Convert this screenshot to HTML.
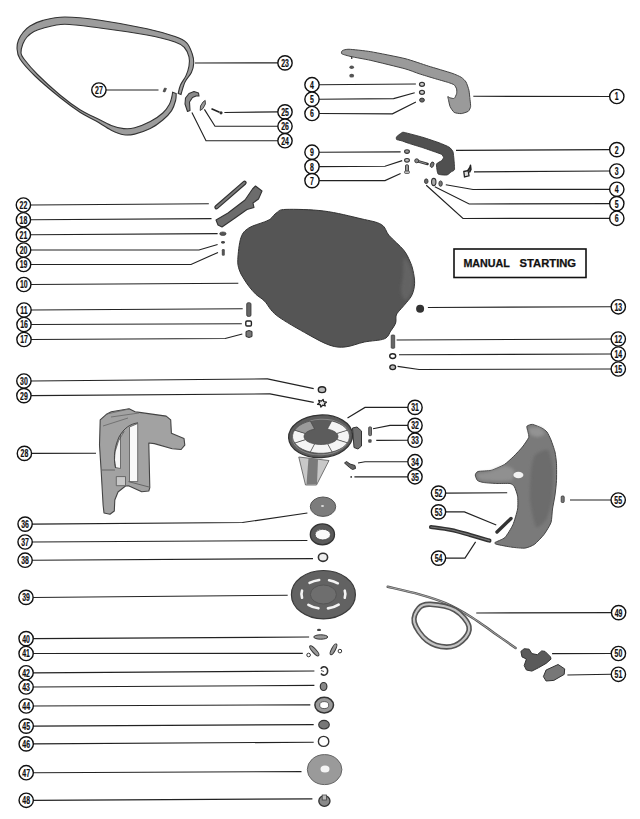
<!DOCTYPE html>
<html><head><meta charset="utf-8"><style>
html,body{margin:0;padding:0;background:#fff;width:640px;height:819px;overflow:hidden}
svg{display:block}
.n{font-family:"Liberation Sans",sans-serif;font-weight:bold;font-size:11.2px;fill:#111;stroke:#111;stroke-width:0.2px}
.t{font-family:"Liberation Sans",sans-serif;font-weight:bold;font-size:10px;fill:#111;stroke:#111;stroke-width:0.25px}
</style></head><body>
<svg width="640" height="819" viewBox="0 0 640 819">
<defs><filter id="bl" x="-20%" y="-20%" width="140%" height="140%"><feGaussianBlur stdDeviation="1.8"/></filter></defs>
<rect width="640" height="819" fill="#fff"/>
<polyline points="106,90 158.5,90" fill="none" stroke="#222" stroke-width="1.15"/><polyline points="195,63 278,62.9" fill="none" stroke="#222" stroke-width="1.15"/><polyline points="224.4,112.5 278,111.9" fill="none" stroke="#222" stroke-width="1.15"/><polyline points="204.4,109.4 215,126.2 278,126.2" fill="none" stroke="#222" stroke-width="1.15"/><polyline points="191.9,112.5 206,140.7 278,140.7" fill="none" stroke="#222" stroke-width="1.15"/><polyline points="319,84.7 415.9,84" fill="none" stroke="#222" stroke-width="1.15"/><polyline points="319,99.2 393.6,98.6 414.7,92.7" fill="none" stroke="#222" stroke-width="1.15"/><polyline points="319,113.5 392.4,113.8 415.9,102" fill="none" stroke="#222" stroke-width="1.15"/><polyline points="319,152.2 400.6,151.8" fill="none" stroke="#222" stroke-width="1.15"/><polyline points="319,166.6 385,166.2 402.2,160.6" fill="none" stroke="#222" stroke-width="1.15"/><polyline points="319,180.6 385,180.6 400.6,173.4" fill="none" stroke="#222" stroke-width="1.15"/><polyline points="473.3,96.25 609.5,96.5" fill="none" stroke="#222" stroke-width="1.15"/><polyline points="456,150.3 609.5,149.6" fill="none" stroke="#222" stroke-width="1.15"/><polyline points="474,171.9 609.5,171" fill="none" stroke="#222" stroke-width="1.15"/><polyline points="445.8,184.7 473,189.5 609.5,189.3" fill="none" stroke="#222" stroke-width="1.15"/><polyline points="434.8,186.7 469.2,204 609.5,203.6" fill="none" stroke="#222" stroke-width="1.15"/><polyline points="426.25,185.2 463,218.5 609.5,218.3" fill="none" stroke="#222" stroke-width="1.15"/><polyline points="427.9,307.5 611,306.8" fill="none" stroke="#222" stroke-width="1.15"/><polyline points="396.6,340 611,339" fill="none" stroke="#222" stroke-width="1.15"/><polyline points="399,354.8 611,354" fill="none" stroke="#222" stroke-width="1.15"/><polyline points="397.6,366.4 419.1,369.5 611,369" fill="none" stroke="#222" stroke-width="1.15"/><polyline points="31,205 208.8,203.8" fill="none" stroke="#222" stroke-width="1.15"/><polyline points="31,219.8 211.5,218.6" fill="none" stroke="#222" stroke-width="1.15"/><polyline points="31,234.7 217.6,233.6" fill="none" stroke="#222" stroke-width="1.15"/><polyline points="31,250 199,250 217.6,244.5" fill="none" stroke="#222" stroke-width="1.15"/><polyline points="31,264.5 191,264.5 218,252.4" fill="none" stroke="#222" stroke-width="1.15"/><polyline points="31,284.5 238.3,283.3" fill="none" stroke="#222" stroke-width="1.15"/><polyline points="31,310 242.7,308.8" fill="none" stroke="#222" stroke-width="1.15"/><polyline points="31,324.5 241.8,323.8" fill="none" stroke="#222" stroke-width="1.15"/><polyline points="31,339.5 225.2,338.5 242.3,334" fill="none" stroke="#222" stroke-width="1.15"/><polyline points="31,381 267.5,378.9 313.7,388.6" fill="none" stroke="#222" stroke-width="1.15"/><polyline points="31,395.6 270,393.9 313.7,402.4" fill="none" stroke="#222" stroke-width="1.15"/><polyline points="31.5,453.4 96,453.2" fill="none" stroke="#222" stroke-width="1.15"/><polyline points="32,524.1 242.5,522.5 307.4,513" fill="none" stroke="#222" stroke-width="1.15"/><polyline points="32,542 307.4,540.5" fill="none" stroke="#222" stroke-width="1.15"/><polyline points="32,560.2 313,558.6" fill="none" stroke="#222" stroke-width="1.15"/><polyline points="32.5,597.5 287.7,595.2" fill="none" stroke="#222" stroke-width="1.15"/><polyline points="33,638.6 309.1,637" fill="none" stroke="#222" stroke-width="1.15"/><polyline points="33,653.5 302.8,653.3" fill="none" stroke="#222" stroke-width="1.15"/><polyline points="33,672.8 314.4,671" fill="none" stroke="#222" stroke-width="1.15"/><polyline points="33,687 314.4,685.4" fill="none" stroke="#222" stroke-width="1.15"/><polyline points="33,706 310.3,704.8" fill="none" stroke="#222" stroke-width="1.15"/><polyline points="33,726.1 313.7,724.6" fill="none" stroke="#222" stroke-width="1.15"/><polyline points="33,743.9 313.7,742.2" fill="none" stroke="#222" stroke-width="1.15"/><polyline points="33,772.7 301.5,771.6" fill="none" stroke="#222" stroke-width="1.15"/><polyline points="33,800.3 312.4,798.8" fill="none" stroke="#222" stroke-width="1.15"/><polyline points="347.5,418.1 365,407.4 408,407.4" fill="none" stroke="#222" stroke-width="1.15"/><polyline points="373,428.75 390,425.4 408,425.4" fill="none" stroke="#222" stroke-width="1.15"/><polyline points="376.25,440.4 408,440.2" fill="none" stroke="#222" stroke-width="1.15"/><polyline points="358,463 365,461.7 408,461.7" fill="none" stroke="#222" stroke-width="1.15"/><polyline points="354.4,476.8 408,476.8" fill="none" stroke="#222" stroke-width="1.15"/><polyline points="445.5,493.1 507.2,492.8" fill="none" stroke="#222" stroke-width="1.15"/><polyline points="445.5,511.9 464.4,511.9 496.25,525" fill="none" stroke="#222" stroke-width="1.15"/><polyline points="445.5,558.1 465,558.1 475.6,541.9" fill="none" stroke="#222" stroke-width="1.15"/><polyline points="570,500 611,500" fill="none" stroke="#222" stroke-width="1.15"/><polyline points="476.25,613 611,612.6" fill="none" stroke="#222" stroke-width="1.15"/><polyline points="552.1,653.6 611,653.5" fill="none" stroke="#222" stroke-width="1.15"/><polyline points="567.4,675 611,674.3" fill="none" stroke="#222" stroke-width="1.15"/>
<path d="M181.00,94.50 C181.67,92.42 183.27,85.67 185.00,82.00 C186.73,78.33 189.94,75.67 191.40,72.50 C192.86,69.33 193.62,66.12 193.75,63.00 C193.88,59.88 193.38,57.12 192.20,53.75 C191.02,50.38 189.57,45.66 186.70,42.80 C183.83,39.94 181.63,38.94 175.00,36.60 C168.37,34.26 159.40,31.48 146.90,28.75 C134.40,26.02 113.70,22.16 100.00,20.20 C86.30,18.24 74.20,16.97 64.70,17.00 C55.20,17.03 48.78,18.90 43.00,20.40 C37.22,21.90 33.33,23.98 30.00,26.00 C26.67,28.02 24.92,30.17 23.00,32.50 C21.08,34.83 19.50,37.42 18.50,40.00 C17.50,42.58 16.75,44.83 17.00,48.00 C17.25,51.17 17.00,54.33 20.00,59.00 C23.00,63.67 28.33,69.58 35.00,76.00 C41.67,82.42 52.50,91.47 60.00,97.50 C67.50,103.53 74.07,108.32 80.00,112.20 C85.93,116.08 90.39,117.80 95.60,120.80 C100.81,123.80 106.56,127.87 111.25,130.20 C115.94,132.53 119.84,134.15 123.75,134.80 C127.66,135.45 130.27,135.13 134.70,134.10 C139.12,133.07 145.62,130.95 150.30,128.60 C154.98,126.25 159.25,123.00 162.80,120.00 C166.35,117.00 169.47,113.85 171.60,110.60 C173.73,107.35 174.83,103.35 175.60,100.50 C176.37,97.65 176.10,94.67 176.20,93.50 L172.60,92.20 C172.47,93.00 172.35,94.97 171.80,97.00 C171.25,99.03 170.80,101.73 169.30,104.40 C167.80,107.07 165.97,110.13 162.80,113.00 C159.63,115.87 154.98,119.13 150.30,121.60 C145.62,124.07 139.12,126.63 134.70,127.80 C130.27,128.97 127.66,128.98 123.75,128.60 C119.84,128.22 115.94,127.32 111.25,125.50 C106.56,123.68 100.81,120.32 95.60,117.70 C90.39,115.08 85.93,113.58 80.00,109.80 C74.07,106.02 67.08,100.88 60.00,95.00 C52.92,89.12 43.50,80.50 37.50,74.50 C31.50,68.50 26.75,62.58 24.00,59.00 C21.25,55.42 21.20,55.50 21.00,53.00 C20.80,50.50 21.80,46.67 22.80,44.00 C23.80,41.33 25.13,39.08 27.00,37.00 C28.87,34.92 31.33,32.97 34.00,31.50 C36.67,30.03 37.88,29.40 43.00,28.20 C48.12,27.00 55.20,24.33 64.70,24.30 C74.20,24.27 86.30,26.22 100.00,28.00 C113.70,29.78 134.40,32.67 146.90,35.00 C159.40,37.33 168.75,39.92 175.00,42.00 C181.25,44.08 182.07,45.02 184.40,47.50 C186.73,49.98 188.23,53.82 189.00,56.90 C189.77,59.98 189.50,62.88 189.00,66.00 C188.50,69.12 187.42,72.43 186.00,75.60 C184.58,78.77 181.80,82.02 180.50,85.00 C179.20,87.98 178.58,92.08 178.20,93.50 Z" fill="#9c9c9c" stroke="#333" stroke-width="1.1"/>
<path d="M163,91.5 L164.5,88 L166.5,88.5 L165,92 Z" fill="#555" stroke="#333" stroke-width="0.6" stroke-linejoin="round" />
<path d="M187.5,111.5 L185,104 L185.5,98 L189,93.5 L194,91.5 L198.5,93 L199,96 L196,96 L192.5,97.5 L189.5,102 L190,110.5 Z" fill="#8a8a8a" stroke="#333" stroke-width="1.1" stroke-linejoin="round" />
<path d="M200.2,110.5 L200.5,106 L203,102 L205.2,100.4 L205.4,104 L203,108.5 Z" fill="#999" stroke="#333" stroke-width="0.9" stroke-linejoin="round" />
<line x1="211.5" y1="108.8" x2="219.5" y2="112.3" stroke="#222" stroke-width="1.6"/><circle cx="221" cy="112.8" r="1.6" fill="#333"/>
<path d="M342.40,50.60 C343.12,50.15 346.16,49.14 349.00,49.25 C351.84,49.36 365.20,50.77 370.80,51.70 C376.40,52.64 399.24,57.16 405.00,58.60 C410.76,60.04 423.71,64.64 428.40,66.10 C433.09,67.56 448.61,72.08 451.90,73.20 C455.19,74.32 459.84,76.42 461.25,77.30 C462.66,78.18 465.24,80.71 466.00,82.00 C466.76,83.29 468.50,88.45 468.90,90.20 C469.30,91.95 469.83,97.86 470.00,99.50 C470.17,101.14 470.77,105.42 470.60,106.60 C470.43,107.77 469.24,110.55 468.30,111.25 C467.37,111.95 462.66,113.48 461.25,113.60 C459.84,113.71 455.31,113.10 454.20,112.40 C453.08,111.70 450.68,107.89 450.10,106.60 C449.52,105.31 448.63,100.50 448.40,99.50 C448.17,98.50 447.63,96.77 447.80,96.60 C447.97,96.43 449.46,97.62 450.10,97.80 C450.74,97.98 453.55,98.81 454.20,98.40 C454.85,97.99 456.36,94.64 456.60,93.70 C456.84,92.76 456.84,89.88 456.60,89.00 C456.36,88.12 455.02,85.55 454.20,84.90 C453.38,84.25 450.39,83.15 448.40,82.50 C446.41,81.85 437.23,79.28 434.30,78.40 C431.37,77.53 422.03,74.71 419.10,73.75 C416.17,72.79 409.83,70.13 405.00,68.80 C400.17,67.47 376.19,61.62 370.80,60.40 C365.41,59.18 354.00,57.26 351.10,56.60 C348.20,55.94 342.67,54.40 341.80,53.80 C340.93,53.20 341.68,51.05 342.40,50.60 Z" fill="#9a9a9a" stroke="#444" stroke-width="1" stroke-linejoin="round" />
<ellipse cx="351.7" cy="67.2" rx="2.3" ry="1.7" fill="#555"/><ellipse cx="351.7" cy="75.7" rx="2.4" ry="1.9" fill="#555"/><rect x="351" y="56" width="1.4" height="3" fill="#444"/>
<ellipse cx="422" cy="84.3" rx="2.5" ry="2" fill="#ccc" stroke="#333" stroke-width="1.2"/><ellipse cx="422" cy="92.3" rx="2.5" ry="2" fill="#ccc" stroke="#333" stroke-width="1.2"/><ellipse cx="422" cy="100.1" rx="2.4" ry="2" fill="#666" stroke="#333" stroke-width="1"/>
<path d="M396.60,136.75 C397.01,136.20 400.87,133.26 401.50,132.90 C402.13,132.54 402.43,132.03 404.20,132.40 C405.97,132.77 419.88,136.43 422.80,137.30 C425.72,138.17 437.01,141.98 439.20,142.80 C441.39,143.62 447.96,146.38 449.10,147.10 C450.24,147.82 452.49,150.45 452.90,151.50 C453.31,152.55 453.87,158.19 454.00,159.70 C454.13,161.21 454.73,168.59 454.50,169.60 C454.27,170.61 451.93,171.35 451.30,171.80 C450.67,172.25 448.00,174.82 446.90,175.00 C445.80,175.18 438.97,174.91 438.10,174.00 C437.23,173.09 436.23,165.20 436.50,164.10 C436.77,163.00 440.81,161.35 441.40,160.80 C441.99,160.25 443.60,158.04 443.60,157.50 C443.60,156.96 442.22,154.80 441.40,154.30 C440.58,153.80 435.35,152.05 433.80,151.50 C432.25,150.95 424.90,148.38 422.80,147.70 C420.70,147.02 410.15,143.80 408.60,143.30 C407.05,142.80 404.84,141.92 404.20,141.70 C403.56,141.47 401.53,140.78 400.90,140.60 C400.27,140.42 396.96,139.82 396.60,139.50 C396.24,139.18 396.19,137.30 396.60,136.75 Z" fill="#505050" stroke="#333" stroke-width="0.9" stroke-linejoin="round" />
<ellipse cx="407" cy="151.6" rx="2.4" ry="1.8" fill="#999" stroke="#333" stroke-width="1.1"/><ellipse cx="407" cy="160.3" rx="2.4" ry="1.8" fill="#bbb" stroke="#333" stroke-width="1.1"/><rect x="405.5" y="164.8" width="3" height="7" rx="1" fill="#999" stroke="#333" stroke-width="0.9"/><rect x="404.6" y="171" width="4.8" height="2.4" rx="0.8" fill="#ccc" stroke="#333" stroke-width="0.8"/>
<line x1="417" y1="161" x2="427.5" y2="164" stroke="#333" stroke-width="2.6" stroke-linecap="round"/><line x1="418" y1="161.3" x2="426.5" y2="163.7" stroke="#999" stroke-width="0.9"/><circle cx="416.7" cy="160.8" r="2" fill="#888" stroke="#333" stroke-width="0.9"/>
<ellipse cx="432.1" cy="164.7" rx="1.7" ry="2.8" transform="rotate(20 432.1 164.7)" fill="#777" stroke="#333" stroke-width="0.9"/>
<path d="M463.8,171.5 L468.2,170.5 L469,175.8 L464.5,177 Z" fill="#ddd" stroke="#222" stroke-width="1.3"/><path d="M467.5,171 L469.8,167.5 L470.5,165.2 L471,169.5 L469.5,172.5" fill="#555" stroke="#222" stroke-width="1.4" stroke-linejoin="round"/>
<ellipse cx="426.25" cy="181.25" rx="1.8" ry="2.4" fill="#666" stroke="#333" stroke-width="0.8"/><ellipse cx="433.75" cy="182" rx="2.2" ry="3.6" fill="#aaa" stroke="#333" stroke-width="1.1"/><ellipse cx="440.6" cy="183.6" rx="1.7" ry="2.7" fill="#777" stroke="#333" stroke-width="0.9"/>
<line x1="216.5" y1="207.2" x2="244.5" y2="182.8" stroke="#333" stroke-width="4.4" stroke-linecap="round"/><line x1="216.5" y1="207.2" x2="244.5" y2="182.8" stroke="#7a7a7a" stroke-width="2" stroke-linecap="round"/>
<path d="M216,220 L228,213 L245,200 L252.5,189 L255.5,186 L262,191 L258.5,199 L253,203 L254,207.5 L247,209.5 L235,218 L222,227 L218,225 Z" fill="#6c6c6c" stroke="#333" stroke-width="1.1" stroke-linejoin="round" />
<ellipse cx="222.9" cy="233.7" rx="3.2" ry="1.8" fill="#555" stroke="#333" stroke-width="0.6"/><ellipse cx="223" cy="242.3" rx="2" ry="1.4" fill="#444"/><rect x="221.8" y="249" width="3" height="6.7" rx="1.3" fill="#555"/>
<path d="M276.90,212.50 C279.47,210.94 278.19,209.65 286.00,209.40 C293.81,209.15 311.25,209.44 323.75,211.00 C336.25,212.56 351.41,216.50 361.00,218.75 C370.59,221.00 376.60,221.69 381.30,224.50 C386.00,227.31 385.50,231.37 389.20,235.60 C392.90,239.83 400.07,245.67 403.50,249.90 C406.93,254.13 408.22,257.55 409.80,261.00 C411.38,264.45 412.20,266.89 413.00,270.60 C413.80,274.31 414.73,279.28 414.60,283.25 C414.47,287.22 413.52,291.22 412.20,294.40 C410.88,297.57 408.55,299.92 406.70,302.30 C404.85,304.68 402.83,306.58 401.10,308.70 C399.37,310.82 397.22,312.62 396.30,315.00 C395.38,317.38 396.52,320.35 395.60,323.00 C394.68,325.65 392.67,328.27 390.80,330.90 C388.93,333.53 388.80,336.95 384.40,338.80 C380.00,340.65 370.87,340.65 364.40,342.00 C357.93,343.35 351.33,346.35 345.60,346.90 C339.87,347.45 336.27,347.38 330.00,345.30 C323.73,343.22 316.85,339.35 308.00,334.40 C299.15,329.45 284.12,321.12 276.90,315.60 C269.68,310.08 268.18,304.83 264.70,301.30 C261.22,297.77 258.60,296.85 256.00,294.40 C253.40,291.95 251.23,289.37 249.10,286.60 C246.97,283.83 244.83,280.57 243.20,277.80 C241.57,275.03 240.20,273.07 239.30,270.00 C238.40,266.93 237.52,264.82 237.80,259.40 C238.08,253.98 239.18,242.73 241.00,237.50 C242.82,232.27 244.85,230.60 248.75,228.00 C252.65,225.40 260.76,223.44 264.40,221.90 C268.04,220.36 268.52,220.32 270.60,218.75 C272.68,217.18 274.33,214.06 276.90,212.50 Z" fill="#555555" stroke="#333" stroke-width="1" stroke-linejoin="round" />
<path d="M404.00,258.00 C405.17,256.33 408.50,262.33 410.00,266.00 C411.50,269.67 412.83,275.50 413.00,280.00 C413.17,284.50 412.33,289.67 411.00,293.00 C409.67,296.33 406.67,300.50 405.00,300.00 C403.33,299.50 401.33,294.00 401.00,290.00 C400.67,286.00 402.50,281.33 403.00,276.00 C403.50,270.67 402.83,259.67 404.00,258.00 Z" fill="#646464" stroke="none" stroke-width="0" stroke-linejoin="round" filter="url(#bl)"/>
<rect x="246.7" y="302.7" width="4.3" height="13.7" rx="1.5" fill="#666" stroke="#333" stroke-width="0.8"/><rect x="245.8" y="321" width="5.6" height="5" rx="1.2" fill="#fff" stroke="#222" stroke-width="1.4"/>
<path d="M246,331.5 L249,330.5 L252,331.5 L252,336.5 L249,337.5 L246,336.5 Z" fill="#777" stroke="#333" stroke-width="1" stroke-linejoin="round" />
<circle cx="420.1" cy="308.7" r="4" fill="#333"/><rect x="391.2" y="335" width="3.5" height="13.3" rx="0.8" fill="#666" stroke="#333" stroke-width="0.7"/><ellipse cx="392.7" cy="356.1" rx="3" ry="2.4" fill="#fff" stroke="#222" stroke-width="1.4"/><ellipse cx="392.7" cy="367.3" rx="2.9" ry="2.4" fill="#bbb" stroke="#222" stroke-width="1.3"/>
<path d="M100.2,419.8 L106.9,413.9 L111.3,411.7 L129.1,408.7 L135.1,411.7 L139.5,412.4 L166.2,416.1 L170.7,419.8 L171.4,433.2 L184,438.4 L184.8,445.1 L181.1,449.5 L172.2,448.8 L154.4,443.6 L148.8,443 L149.8,487.7 L148.8,491 L141.7,491.8 L128.5,485.7 L125.5,486 L118,492 L114.8,500 L114.3,511 L110,514.3 L104,513 L103.1,505 L101.1,470 L99.5,445 Z" fill="#a2a2a2" stroke="#444" stroke-width="1.1" stroke-linejoin="round" />
<path d="M124,431.5 L118.5,441 L115,452 L114.5,460 L115.5,467.5 L120.5,468.5 L120.5,435 Z" fill="#f6f6f6" stroke="#555" stroke-width="0.8" stroke-linejoin="round" />
<path d="M129.5,427 L137.7,423.5 L137.7,481.6 L129.5,481.6 Z" fill="#f8f8f8" stroke="#555" stroke-width="0.8" stroke-linejoin="round" />
<path d="M138,422.8 C130,424 124,428 119,437 C115,446 113,456 115.5,468" fill="none" stroke="#444" stroke-width="1"/>
<path d="M106.9,414 L129,409 M111,417 L139,413 M103,426 L128,418" fill="none" stroke="#666" stroke-width="0.8"/>
<path d="M116.3,476.6 L125.5,476.6 L125.5,485.7 L116.3,485.7 Z" fill="#c8c8c8" stroke="#555" stroke-width="0.8"/>
<path d="M128.5,481.6 L149,487 M102,470 L115,470" fill="none" stroke="#555" stroke-width="0.8"/>
<ellipse cx="322" cy="389.7" rx="3.7" ry="2.9" fill="#bbb" stroke="#222" stroke-width="1.4"/>
<path d="M323.1380582125708,399.4115524311114 L323.7467858114165,401.67977331781503 L326.42890185400654,402.14352544016674 L324.4222810542766,403.72573341341587 L325.2908436414357,405.93197300905535 L322.67549524286017,405.2459600956008 L320.8619417874292,406.9884475688886 L320.2532141885835,404.72022668218494 L317.57109814599346,404.25647455983324 L319.5777189457234,402.6742665865841 L318.7091563585643,400.4680269909446 L321.32450475713983,401.15403990439916 Z" fill="#eee" stroke="#222" stroke-width="1.3" stroke-linejoin="round" />
<path d="M298.75,457 L329,460.5 L316.5,485 L305.5,485 Z" fill="#c8c8c8" stroke="#555" stroke-width="0.8" stroke-linejoin="round" />
<path d="M308.5,458 L318,459 L317,484 L306.5,484.5 Z" fill="#7a7a7a" stroke="none" stroke-width="0" stroke-linejoin="round" />
<ellipse cx="320.6" cy="436.3" rx="32" ry="21.3" transform="rotate(-3 320.6 436.3)" fill="#5c5c5c" stroke="#333" stroke-width="1.3"/>
<ellipse cx="321" cy="437" rx="28.5" ry="17.8" transform="rotate(-3 321 437)" fill="none" stroke="#888" stroke-width="1"/>
<path d="M347.2502383290822,429.9577718492147 L348.6831322832828,432.50659587602416 L349.40884862962463,435.1574331413179 L349.40884862962463,437.8425668586821 L348.6831322832828,440.49340412397584 L347.2502383290822,443.0422281507853 L336.65803689804903,439.6153467384692 L337.5127455724845,438.4016210114171 L337.94562900714453,437.1393175517534 L337.94562900714453,435.8606824482466 L337.5127455724845,434.5983789885829 L336.65803689804903,433.3846532615308 Z" fill="#f4f4f4" stroke="#444" stroke-width="0.7" stroke-linejoin="round" />
<path d="M347.4094915213559,442.81559248624063 L345.3652430249892,445.2151433004619 L342.69857383933817,447.39206200324793 L339.4776051840813,449.2907382631888 L335.7846180989979,450.86266957262524 L331.71395153915824,452.0677002652203 L327.3907781110768,443.9131906024859 L329.8188950064198,443.3393664631549 L332.02172940804854,442.59082774437564 L333.9430089567982,441.68669619202285 L335.5336537342041,440.6500682383152 L336.75303003028245,439.50742499344796 Z" fill="#f4f4f4" stroke="#444" stroke-width="0.7" stroke-linejoin="round" />
<path d="M332.09842275579655,451.9738246992485 L327.7745248531733,452.8184779775141 L323.2775687781214,453.24626866588403 L318.7224312218786,453.24626866588403 L314.2254751468267,452.8184779775141 L309.90157724420345,451.9738246992485 L314.37988818075297,443.8684879520231 L316.9590553507387,444.2707037988162 L319.6414502025241,444.47441365042096 L322.3585497974759,444.47441365042096 L325.0409446492613,444.2707037988162 L327.6201118192471,443.8684879520231 Z" fill="#f4f4f4" stroke="#444" stroke-width="0.7" stroke-linejoin="round" />
<path d="M310.28604846084176,452.0677002652203 L306.2153819010021,450.86266957262524 L302.5223948159187,449.2907382631888 L299.30142616066183,447.39206200324793 L296.6347569750108,445.2151433004619 L294.5905084786441,442.81559248624063 L305.24696996971755,439.50742499344796 L306.4663462657959,440.6500682383152 L308.0569910432018,441.68669619202285 L309.9782705919515,442.59082774437564 L312.1811049935802,443.3393664631549 L314.6092218889232,443.9131906024859 Z" fill="#f4f4f4" stroke="#444" stroke-width="0.7" stroke-linejoin="round" />
<path d="M294.7497616709178,443.0422281507853 L293.3168677167172,440.49340412397584 L292.59115137037537,437.8425668586821 L292.59115137037537,435.1574331413179 L293.3168677167172,432.50659587602416 L294.7497616709178,429.9577718492147 L305.34196310195097,433.3846532615308 L304.4872544275155,434.5983789885829 L304.05437099285547,435.8606824482466 L304.05437099285547,437.1393175517534 L304.4872544275155,438.4016210114171 L305.34196310195097,439.6153467384692 Z" fill="#f4f4f4" stroke="#444" stroke-width="0.7" stroke-linejoin="round" />
<path d="M331.71395153915824,420.9322997347797 L335.78461809899784,422.13733042737476 L339.4776051840813,423.7092617368112 L342.69857383933817,425.60793799675207 L345.3652430249892,427.7848566995381 L347.4094915213559,430.18440751375937 L336.75303003028245,433.49257500655204 L335.5336537342041,432.3499317616848 L333.9430089567982,431.31330380797715 L332.02172940804854,430.40917225562436 L329.8188950064198,429.6606335368451 L327.3907781110768,429.0868093975141 Z" fill="#f4f4f4" stroke="#444" stroke-width="0.7" stroke-linejoin="round" />
<path d="M294.5905084786441,430.18440751375937 L296.6347569750108,427.78485669953807 L299.30142616066183,425.60793799675207 L302.5223948159187,423.7092617368112 L306.21538190100216,422.13733042737476 L310.28604846084176,420.9322997347797 L314.6092218889232,429.0868093975141 L312.1811049935802,429.6606335368451 L309.9782705919515,430.40917225562436 L308.0569910432018,431.31330380797715 L306.4663462657959,432.3499317616848 L305.24696996971755,433.49257500655204 Z" fill="#9a9a9a" stroke="#444" stroke-width="0.7" stroke-linejoin="round" />
<path d="M352.5,428 L357,427 L361.5,431 L361.5,446 L358,449 L354,447.5 Z" fill="#707070" stroke="#333" stroke-width="1" stroke-linejoin="round" />
<rect x="368.7" y="426.9" width="2.8" height="8.7" rx="0.8" fill="#777" stroke="#333" stroke-width="0.8"/><rect x="368.2" y="439.3" width="3.4" height="3.4" rx="1" fill="#555"/>
<path d="M344.5,463 L346.5,461.5 L350,464 L355,465.5 L355.5,468.5 L352.5,469.5 L349.5,467.5 Z" fill="#666" stroke="#333" stroke-width="1" stroke-linejoin="round" />
<circle cx="351.2" cy="476.9" r="0.9" fill="#333"/>
<ellipse cx="323" cy="506.7" rx="12.7" ry="9.7" fill="#7c7c7c" stroke="#555" stroke-width="1"/><ellipse cx="322.5" cy="506" rx="1.5" ry="1" fill="#ddd"/>
<ellipse cx="322.4" cy="534.4" rx="12.1" ry="10.5" fill="#5a5a5a" stroke="#333" stroke-width="1.3"/><path d="M315.1,534.4 A7.7,5.3 0 0 1 322,529.1 L323.9,531 L325.5,529.2 A7.7,5.3 0 0 1 315.1,534.4 Z" fill="#fafafa"/><ellipse cx="322.8" cy="534.6" rx="7.7" ry="5.3" fill="#fafafa" stroke="#444" stroke-width="0.8"/>
<ellipse cx="323" cy="557.3" rx="4.6" ry="4.1" fill="#eee" stroke="#333" stroke-width="1.6"/>
<ellipse cx="323.4" cy="594.7" rx="32" ry="24.2" fill="#626262" stroke="#3a3a3a" stroke-width="1.2"/>
<ellipse cx="323.4" cy="594.5" rx="13" ry="9.5" fill="#6e6e6e" stroke="#555" stroke-width="1"/>
<path d="M309.55,582.93 A22,14.5 0 0 1 319.20,579.97" fill="none" stroke="#f4f4f4" stroke-width="2.6" stroke-linecap="round"/>
<path d="M329.09,580.19 A22,14.5 0 0 1 337.83,583.26" fill="none" stroke="#f4f4f4" stroke-width="2.6" stroke-linecap="round"/>
<path d="M344.75,590.69 A22,14.5 0 0 1 344.75,597.71" fill="none" stroke="#f4f4f4" stroke-width="2.6" stroke-linecap="round"/>
<path d="M338.68,604.63 A22,14.5 0 0 1 327.97,608.38" fill="none" stroke="#f4f4f4" stroke-width="2.6" stroke-linecap="round"/>
<path d="M318.45,608.33 A22,14.5 0 0 1 308.40,604.80" fill="none" stroke="#f4f4f4" stroke-width="2.6" stroke-linecap="round"/>
<path d="M302.05,597.71 A22,14.5 0 0 1 302.05,590.69" fill="none" stroke="#f4f4f4" stroke-width="2.6" stroke-linecap="round"/>
<ellipse cx="319" cy="629.9" rx="2" ry="1.2" fill="#444"/>
<ellipse cx="320.75" cy="637" rx="7" ry="2.2" fill="#999" stroke="#333" stroke-width="1"/>
<ellipse cx="314.3" cy="650.8" rx="6.5" ry="2" transform="rotate(48 314.3 650.8)" fill="#999" stroke="#333" stroke-width="1"/>
<ellipse cx="333.5" cy="649.3" rx="6" ry="1.9" transform="rotate(-62 333.5 649.3)" fill="#999" stroke="#333" stroke-width="1"/>
<circle cx="308.6" cy="655" r="1.8" fill="none" stroke="#333" stroke-width="1"/><circle cx="339.9" cy="651.1" r="1.8" fill="none" stroke="#333" stroke-width="1"/>
<path d="M320.8,668.8 A3.7,4.2 0 1 1 321,673.5" fill="none" stroke="#333" stroke-width="1.6"/><path d="M321,670.5 L324,671.5" stroke="#555" stroke-width="1"/>
<ellipse cx="323.6" cy="686.5" rx="3.3" ry="4" fill="#888" stroke="#333" stroke-width="1.2"/>
<ellipse cx="324.2" cy="705.1" rx="9.3" ry="7.8" fill="#999" stroke="#333" stroke-width="1.5"/><ellipse cx="324.2" cy="705.1" rx="4.5" ry="3.5" fill="#fff" stroke="#444" stroke-width="0.8"/>
<ellipse cx="324" cy="724.7" rx="5.3" ry="4.3" fill="#777" stroke="#333" stroke-width="1.1"/>
<ellipse cx="323.6" cy="741.4" rx="5.2" ry="5" fill="none" stroke="#333" stroke-width="1.4"/>
<ellipse cx="324.6" cy="769.6" rx="17.3" ry="15" fill="#9a9a9a" stroke="#666" stroke-width="1"/><ellipse cx="325" cy="769" rx="4.5" ry="3.5" fill="#f4f4f4"/>
<ellipse cx="324.4" cy="801" rx="5.6" ry="5.4" fill="#8a8a8a" stroke="#333" stroke-width="1.3"/><rect x="322.2" y="795" width="4.2" height="5" fill="#bbb" stroke="#444" stroke-width="0.8"/>
<path d="M526.90,426.25 C527.35,425.50 531.00,424.21 532.50,424.40 C534.00,424.58 540.45,427.34 541.90,428.10 C543.35,428.86 546.09,430.81 547.00,432.00 C547.91,433.19 550.20,438.00 551.00,440.00 C551.80,442.00 554.45,449.62 555.00,452.00 C555.55,454.38 556.35,460.89 556.50,463.75 C556.65,466.61 556.65,477.48 556.50,480.60 C556.35,483.73 555.40,492.16 555.00,495.00 C554.60,497.84 552.90,506.25 552.50,509.00 C552.10,511.75 551.85,519.95 551.00,522.50 C550.15,525.05 545.66,532.31 544.00,534.50 C542.34,536.69 536.30,543.04 534.40,544.40 C532.50,545.76 527.25,547.82 525.00,548.10 C522.75,548.38 514.71,547.57 511.90,547.20 C509.09,546.83 498.59,544.87 496.90,544.40 C495.21,543.93 494.20,543.19 495.00,542.50 C495.80,541.81 503.11,539.27 504.90,537.50 C506.69,535.73 511.63,527.66 512.90,524.80 C514.17,521.94 517.13,511.76 517.60,508.90 C518.07,506.04 517.92,498.42 517.60,496.20 C517.28,493.98 515.16,487.97 514.40,486.70 C513.64,485.43 511.75,483.82 510.00,483.50 C508.25,483.18 499.52,483.60 496.90,483.50 C494.27,483.40 485.69,482.80 483.75,482.50 C481.81,482.20 478.35,481.25 477.50,480.50 C476.65,479.75 475.24,475.90 475.30,475.00 C475.36,474.10 476.50,471.97 478.10,471.50 C479.70,471.03 488.62,471.00 491.25,470.30 C493.88,469.60 502.15,465.90 504.40,464.50 C506.65,463.10 511.95,458.00 513.75,456.25 C515.55,454.50 520.90,448.88 522.40,447.00 C523.89,445.12 528.14,439.01 528.70,437.50 C529.26,435.99 528.18,433.02 528.00,431.90 C527.82,430.77 526.45,427.00 526.90,426.25 Z" fill="#7a7a7a" stroke="#444" stroke-width="1" stroke-linejoin="round" />
<path d="M477.00,474.00 C477.90,473.15 487.20,472.30 490.00,471.50 C492.80,470.70 502.60,466.15 505.00,466.00 C507.40,465.85 513.30,468.60 514.00,470.00 C514.70,471.40 513.70,478.90 512.00,480.00 C510.30,481.10 500.10,481.00 497.00,481.00 C493.90,481.00 483.00,480.70 481.00,480.00 C479.00,479.30 476.10,474.85 477.00,474.00 Z" fill="#909090" stroke="none" stroke-width="0" stroke-linejoin="round" filter="url(#bl)"/>
<path d="M535.00,455.00 C536.70,453.00 546.20,448.50 548.00,450.00 C549.80,451.50 552.60,465.00 553.00,470.00 C553.40,475.00 552.70,495.00 552.00,500.00 C551.30,505.00 547.60,517.30 546.00,520.00 C544.40,522.70 537.60,529.00 536.00,527.00 C534.40,525.00 530.50,505.70 530.00,500.00 C529.50,494.30 530.50,474.50 531.00,470.00 C531.50,465.50 533.30,457.00 535.00,455.00 Z" fill="#6c6c6c" stroke="none" stroke-width="0" stroke-linejoin="round" filter="url(#bl)"/>
<path d="M529.00,428.00 C529.90,427.25 538.40,426.90 540.00,427.50 C541.60,428.10 545.20,433.05 545.00,434.00 C544.80,434.95 539.40,436.90 538.00,437.00 C536.60,437.10 531.90,435.90 531.00,435.00 C530.10,434.10 528.10,428.75 529.00,428.00 Z" fill="#939393" stroke="none" stroke-width="0" stroke-linejoin="round" filter="url(#bl)"/>
<ellipse cx="518.4" cy="475" rx="5" ry="3.3" fill="#f2f2f2"/>
<line x1="497" y1="532" x2="511" y2="518.5" stroke="#333" stroke-width="3.4" stroke-linecap="round"/>
<path d="M431.00,527.00 C434.38,527.50 444.75,528.67 451.25,530.00 C457.75,531.33 463.64,533.23 470.00,535.00 C476.36,536.77 486.17,539.67 489.40,540.60" fill="none" stroke="#333" stroke-width="4.2" stroke-linecap="round"/>
<path d="M431.00,527.00 C434.38,527.50 444.75,528.67 451.25,530.00 C457.75,531.33 463.64,533.23 470.00,535.00 C476.36,536.77 486.17,539.67 489.40,540.60" fill="none" stroke="#777" stroke-width="1.2" stroke-linecap="round"/>
<rect x="561.2" y="496" width="3" height="6.5" rx="1" fill="#777" stroke="#333" stroke-width="0.8"/>
<path d="M387.70,586.75 C392.98,588.02 409.75,591.66 419.40,594.40 C429.05,597.14 436.85,599.37 445.60,603.20 C454.35,607.03 463.88,612.48 471.90,617.40 C479.92,622.32 486.47,627.60 493.75,632.70 C501.03,637.80 511.96,645.45 515.60,648.00" fill="none" stroke="#555" stroke-width="2.4" stroke-linecap="round"/>
<path d="M387.70,586.75 C392.98,588.02 409.75,591.66 419.40,594.40 C429.05,597.14 436.85,599.37 445.60,603.20 C454.35,607.03 463.88,612.48 471.90,617.40 C479.92,622.32 486.47,627.60 493.75,632.70 C501.03,637.80 511.96,645.45 515.60,648.00" fill="none" stroke="#bbb" stroke-width="0.8" stroke-linecap="round"/>
<path d="M430.50,604.30 C436.50,604.63 448.58,606.30 455.00,610.00 C461.42,613.70 467.83,621.33 469.00,626.50 C470.17,631.67 465.75,637.58 462.00,641.00 C458.25,644.42 452.33,647.08 446.50,647.00 C440.67,646.92 432.37,644.58 427.00,640.50 C421.63,636.42 415.63,627.92 414.30,622.50 C412.97,617.08 416.30,611.03 419.00,608.00 C421.70,604.97 424.50,603.97 430.50,604.30 Z" fill="none" stroke="#555" stroke-width="5.5"/>
<path d="M430.50,604.30 C436.50,604.63 448.58,606.30 455.00,610.00 C461.42,613.70 467.83,621.33 469.00,626.50 C470.17,631.67 465.75,637.58 462.00,641.00 C458.25,644.42 452.33,647.08 446.50,647.00 C440.67,646.92 432.37,644.58 427.00,640.50 C421.63,636.42 415.63,627.92 414.30,622.50 C412.97,617.08 416.30,611.03 419.00,608.00 C421.70,604.97 424.50,603.97 430.50,604.30 Z" fill="none" stroke="#c4c4c4" stroke-width="2.2"/>
<path d="M520.9,651.4 L524.2,648.7 L529.1,649.2 L531.9,653.6 L537.4,654.7 L541.7,650.9 L545,651.4 L550.5,656.9 L551,659.1 L546.1,663.4 L538.4,667.8 L531.9,671.1 L526.4,670 L524.2,665.6 L526.4,659 L522,656.9 Z" fill="#5a5a5a" stroke="#333" stroke-width="1" stroke-linejoin="round" />
<path d="M543.4,676.6 L546.1,670 L558.1,664.5 L564.7,668.9 L564.2,674.4 L553.8,680.4 L546.1,681 Z" fill="#777" stroke="#333" stroke-width="1" stroke-linejoin="round" />
<circle cx="98.9" cy="90" r="7.15" fill="#fff" stroke="#111" stroke-width="1.4"/><text x="98.9" y="94.0" transform="translate(98.9 0) scale(0.62 1) translate(-98.9 0)" text-anchor="middle" class="n">27</text><circle cx="285" cy="62.9" r="7.15" fill="#fff" stroke="#111" stroke-width="1.4"/><text x="285" y="66.9" transform="translate(285 0) scale(0.62 1) translate(-285 0)" text-anchor="middle" class="n">23</text><circle cx="285" cy="111.9" r="7.15" fill="#fff" stroke="#111" stroke-width="1.4"/><text x="285" y="115.9" transform="translate(285 0) scale(0.62 1) translate(-285 0)" text-anchor="middle" class="n">25</text><circle cx="285" cy="126.2" r="7.15" fill="#fff" stroke="#111" stroke-width="1.4"/><text x="285" y="130.2" transform="translate(285 0) scale(0.62 1) translate(-285 0)" text-anchor="middle" class="n">26</text><circle cx="285" cy="140.7" r="7.15" fill="#fff" stroke="#111" stroke-width="1.4"/><text x="285" y="144.7" transform="translate(285 0) scale(0.62 1) translate(-285 0)" text-anchor="middle" class="n">24</text><circle cx="312" cy="84.7" r="7.15" fill="#fff" stroke="#111" stroke-width="1.4"/><text x="312" y="88.7" transform="translate(312 0) scale(0.62 1) translate(-312 0)" text-anchor="middle" class="n">4</text><circle cx="312" cy="99.2" r="7.15" fill="#fff" stroke="#111" stroke-width="1.4"/><text x="312" y="103.2" transform="translate(312 0) scale(0.62 1) translate(-312 0)" text-anchor="middle" class="n">5</text><circle cx="312" cy="113.5" r="7.15" fill="#fff" stroke="#111" stroke-width="1.4"/><text x="312" y="117.5" transform="translate(312 0) scale(0.62 1) translate(-312 0)" text-anchor="middle" class="n">6</text><circle cx="312" cy="152.2" r="7.15" fill="#fff" stroke="#111" stroke-width="1.4"/><text x="312" y="156.2" transform="translate(312 0) scale(0.62 1) translate(-312 0)" text-anchor="middle" class="n">9</text><circle cx="312" cy="166.6" r="7.15" fill="#fff" stroke="#111" stroke-width="1.4"/><text x="312" y="170.6" transform="translate(312 0) scale(0.62 1) translate(-312 0)" text-anchor="middle" class="n">8</text><circle cx="312" cy="180.6" r="7.15" fill="#fff" stroke="#111" stroke-width="1.4"/><text x="312" y="184.6" transform="translate(312 0) scale(0.62 1) translate(-312 0)" text-anchor="middle" class="n">7</text><circle cx="616.8" cy="96.5" r="7.15" fill="#fff" stroke="#111" stroke-width="1.4"/><text x="616.8" y="100.5" transform="translate(616.8 0) scale(0.62 1) translate(-616.8 0)" text-anchor="middle" class="n">1</text><circle cx="616.8" cy="149.6" r="7.15" fill="#fff" stroke="#111" stroke-width="1.4"/><text x="616.8" y="153.6" transform="translate(616.8 0) scale(0.62 1) translate(-616.8 0)" text-anchor="middle" class="n">2</text><circle cx="616.8" cy="171" r="7.15" fill="#fff" stroke="#111" stroke-width="1.4"/><text x="616.8" y="175.0" transform="translate(616.8 0) scale(0.62 1) translate(-616.8 0)" text-anchor="middle" class="n">3</text><circle cx="616.8" cy="189.3" r="7.15" fill="#fff" stroke="#111" stroke-width="1.4"/><text x="616.8" y="193.3" transform="translate(616.8 0) scale(0.62 1) translate(-616.8 0)" text-anchor="middle" class="n">4</text><circle cx="616.8" cy="203.6" r="7.15" fill="#fff" stroke="#111" stroke-width="1.4"/><text x="616.8" y="207.6" transform="translate(616.8 0) scale(0.62 1) translate(-616.8 0)" text-anchor="middle" class="n">5</text><circle cx="616.8" cy="218.3" r="7.15" fill="#fff" stroke="#111" stroke-width="1.4"/><text x="616.8" y="222.3" transform="translate(616.8 0) scale(0.62 1) translate(-616.8 0)" text-anchor="middle" class="n">6</text><circle cx="618.3" cy="306.8" r="7.15" fill="#fff" stroke="#111" stroke-width="1.4"/><text x="618.3" y="310.8" transform="translate(618.3 0) scale(0.62 1) translate(-618.3 0)" text-anchor="middle" class="n">13</text><circle cx="618.3" cy="339" r="7.15" fill="#fff" stroke="#111" stroke-width="1.4"/><text x="618.3" y="343.0" transform="translate(618.3 0) scale(0.62 1) translate(-618.3 0)" text-anchor="middle" class="n">12</text><circle cx="618.3" cy="354" r="7.15" fill="#fff" stroke="#111" stroke-width="1.4"/><text x="618.3" y="358.0" transform="translate(618.3 0) scale(0.62 1) translate(-618.3 0)" text-anchor="middle" class="n">14</text><circle cx="618.3" cy="369" r="7.15" fill="#fff" stroke="#111" stroke-width="1.4"/><text x="618.3" y="373.0" transform="translate(618.3 0) scale(0.62 1) translate(-618.3 0)" text-anchor="middle" class="n">15</text><circle cx="415" cy="407.4" r="7.15" fill="#fff" stroke="#111" stroke-width="1.4"/><text x="415" y="411.4" transform="translate(415 0) scale(0.62 1) translate(-415 0)" text-anchor="middle" class="n">31</text><circle cx="415" cy="425.4" r="7.15" fill="#fff" stroke="#111" stroke-width="1.4"/><text x="415" y="429.4" transform="translate(415 0) scale(0.62 1) translate(-415 0)" text-anchor="middle" class="n">32</text><circle cx="415" cy="440.2" r="7.15" fill="#fff" stroke="#111" stroke-width="1.4"/><text x="415" y="444.2" transform="translate(415 0) scale(0.62 1) translate(-415 0)" text-anchor="middle" class="n">33</text><circle cx="415" cy="461.7" r="7.15" fill="#fff" stroke="#111" stroke-width="1.4"/><text x="415" y="465.7" transform="translate(415 0) scale(0.62 1) translate(-415 0)" text-anchor="middle" class="n">34</text><circle cx="415" cy="476.8" r="7.15" fill="#fff" stroke="#111" stroke-width="1.4"/><text x="415" y="480.8" transform="translate(415 0) scale(0.62 1) translate(-415 0)" text-anchor="middle" class="n">35</text><circle cx="438.5" cy="493.1" r="7.15" fill="#fff" stroke="#111" stroke-width="1.4"/><text x="438.5" y="497.1" transform="translate(438.5 0) scale(0.62 1) translate(-438.5 0)" text-anchor="middle" class="n">52</text><circle cx="438.5" cy="511.9" r="7.15" fill="#fff" stroke="#111" stroke-width="1.4"/><text x="438.5" y="515.9" transform="translate(438.5 0) scale(0.62 1) translate(-438.5 0)" text-anchor="middle" class="n">53</text><circle cx="438.5" cy="558.1" r="7.15" fill="#fff" stroke="#111" stroke-width="1.4"/><text x="438.5" y="562.1" transform="translate(438.5 0) scale(0.62 1) translate(-438.5 0)" text-anchor="middle" class="n">54</text><circle cx="618.2" cy="500" r="7.15" fill="#fff" stroke="#111" stroke-width="1.4"/><text x="618.2" y="504.0" transform="translate(618.2 0) scale(0.62 1) translate(-618.2 0)" text-anchor="middle" class="n">55</text><circle cx="618.6" cy="612.6" r="7.15" fill="#fff" stroke="#111" stroke-width="1.4"/><text x="618.6" y="616.6" transform="translate(618.6 0) scale(0.62 1) translate(-618.6 0)" text-anchor="middle" class="n">49</text><circle cx="618.4" cy="653.5" r="7.15" fill="#fff" stroke="#111" stroke-width="1.4"/><text x="618.4" y="657.5" transform="translate(618.4 0) scale(0.62 1) translate(-618.4 0)" text-anchor="middle" class="n">50</text><circle cx="618.4" cy="674.3" r="7.15" fill="#fff" stroke="#111" stroke-width="1.4"/><text x="618.4" y="678.3" transform="translate(618.4 0) scale(0.62 1) translate(-618.4 0)" text-anchor="middle" class="n">51</text><circle cx="23.4" cy="205" r="7.15" fill="#fff" stroke="#111" stroke-width="1.4"/><text x="23.4" y="209.0" transform="translate(23.4 0) scale(0.62 1) translate(-23.4 0)" text-anchor="middle" class="n">22</text><circle cx="23.4" cy="219.8" r="7.15" fill="#fff" stroke="#111" stroke-width="1.4"/><text x="23.4" y="223.8" transform="translate(23.4 0) scale(0.62 1) translate(-23.4 0)" text-anchor="middle" class="n">18</text><circle cx="23.4" cy="234.7" r="7.15" fill="#fff" stroke="#111" stroke-width="1.4"/><text x="23.4" y="238.7" transform="translate(23.4 0) scale(0.62 1) translate(-23.4 0)" text-anchor="middle" class="n">21</text><circle cx="23.6" cy="250" r="7.15" fill="#fff" stroke="#111" stroke-width="1.4"/><text x="23.6" y="254.0" transform="translate(23.6 0) scale(0.62 1) translate(-23.6 0)" text-anchor="middle" class="n">20</text><circle cx="23.6" cy="264.5" r="7.15" fill="#fff" stroke="#111" stroke-width="1.4"/><text x="23.6" y="268.5" transform="translate(23.6 0) scale(0.62 1) translate(-23.6 0)" text-anchor="middle" class="n">19</text><circle cx="23.8" cy="284.5" r="7.15" fill="#fff" stroke="#111" stroke-width="1.4"/><text x="23.8" y="288.5" transform="translate(23.8 0) scale(0.62 1) translate(-23.8 0)" text-anchor="middle" class="n">10</text><circle cx="24" cy="310" r="7.15" fill="#fff" stroke="#111" stroke-width="1.4"/><text x="24" y="314.0" transform="translate(24 0) scale(0.62 1) translate(-24 0)" text-anchor="middle" class="n">11</text><circle cx="24" cy="324.5" r="7.15" fill="#fff" stroke="#111" stroke-width="1.4"/><text x="24" y="328.5" transform="translate(24 0) scale(0.62 1) translate(-24 0)" text-anchor="middle" class="n">16</text><circle cx="24" cy="339.5" r="7.15" fill="#fff" stroke="#111" stroke-width="1.4"/><text x="24" y="343.5" transform="translate(24 0) scale(0.62 1) translate(-24 0)" text-anchor="middle" class="n">17</text><circle cx="23.9" cy="381" r="7.15" fill="#fff" stroke="#111" stroke-width="1.4"/><text x="23.9" y="385.0" transform="translate(23.9 0) scale(0.62 1) translate(-23.9 0)" text-anchor="middle" class="n">30</text><circle cx="23.9" cy="395.6" r="7.15" fill="#fff" stroke="#111" stroke-width="1.4"/><text x="23.9" y="399.6" transform="translate(23.9 0) scale(0.62 1) translate(-23.9 0)" text-anchor="middle" class="n">29</text><circle cx="24.4" cy="453.4" r="7.15" fill="#fff" stroke="#111" stroke-width="1.4"/><text x="24.4" y="457.4" transform="translate(24.4 0) scale(0.62 1) translate(-24.4 0)" text-anchor="middle" class="n">28</text><circle cx="25.1" cy="524.1" r="7.15" fill="#fff" stroke="#111" stroke-width="1.4"/><text x="25.1" y="528.1" transform="translate(25.1 0) scale(0.62 1) translate(-25.1 0)" text-anchor="middle" class="n">36</text><circle cx="25.1" cy="542" r="7.15" fill="#fff" stroke="#111" stroke-width="1.4"/><text x="25.1" y="546.0" transform="translate(25.1 0) scale(0.62 1) translate(-25.1 0)" text-anchor="middle" class="n">37</text><circle cx="25.1" cy="560.2" r="7.15" fill="#fff" stroke="#111" stroke-width="1.4"/><text x="25.1" y="564.2" transform="translate(25.1 0) scale(0.62 1) translate(-25.1 0)" text-anchor="middle" class="n">38</text><circle cx="26" cy="597.4" r="7.15" fill="#fff" stroke="#111" stroke-width="1.4"/><text x="26" y="601.4" transform="translate(26 0) scale(0.62 1) translate(-26 0)" text-anchor="middle" class="n">39</text><circle cx="26.1" cy="638.6" r="7.15" fill="#fff" stroke="#111" stroke-width="1.4"/><text x="26.1" y="642.6" transform="translate(26.1 0) scale(0.62 1) translate(-26.1 0)" text-anchor="middle" class="n">40</text><circle cx="26.1" cy="653.5" r="7.15" fill="#fff" stroke="#111" stroke-width="1.4"/><text x="26.1" y="657.5" transform="translate(26.1 0) scale(0.62 1) translate(-26.1 0)" text-anchor="middle" class="n">41</text><circle cx="26.1" cy="672.8" r="7.15" fill="#fff" stroke="#111" stroke-width="1.4"/><text x="26.1" y="676.8" transform="translate(26.1 0) scale(0.62 1) translate(-26.1 0)" text-anchor="middle" class="n">42</text><circle cx="26.1" cy="687" r="7.15" fill="#fff" stroke="#111" stroke-width="1.4"/><text x="26.1" y="691.0" transform="translate(26.1 0) scale(0.62 1) translate(-26.1 0)" text-anchor="middle" class="n">43</text><circle cx="26.2" cy="706" r="7.15" fill="#fff" stroke="#111" stroke-width="1.4"/><text x="26.2" y="710.0" transform="translate(26.2 0) scale(0.62 1) translate(-26.2 0)" text-anchor="middle" class="n">44</text><circle cx="26.2" cy="726.1" r="7.15" fill="#fff" stroke="#111" stroke-width="1.4"/><text x="26.2" y="730.1" transform="translate(26.2 0) scale(0.62 1) translate(-26.2 0)" text-anchor="middle" class="n">45</text><circle cx="26.2" cy="743.9" r="7.15" fill="#fff" stroke="#111" stroke-width="1.4"/><text x="26.2" y="747.9" transform="translate(26.2 0) scale(0.62 1) translate(-26.2 0)" text-anchor="middle" class="n">46</text><circle cx="26.2" cy="772.7" r="7.15" fill="#fff" stroke="#111" stroke-width="1.4"/><text x="26.2" y="776.7" transform="translate(26.2 0) scale(0.62 1) translate(-26.2 0)" text-anchor="middle" class="n">47</text><circle cx="26.2" cy="800.3" r="7.15" fill="#fff" stroke="#111" stroke-width="1.4"/><text x="26.2" y="804.3" transform="translate(26.2 0) scale(0.62 1) translate(-26.2 0)" text-anchor="middle" class="n">48</text>
<rect x="454" y="249" width="132" height="28.5" fill="none" stroke="#111" stroke-width="1.6"/>
<text x="463.4" y="267.2" class="t" textLength="46.5" lengthAdjust="spacingAndGlyphs">MANUAL</text>
<text x="519.6" y="267.2" class="t" textLength="56.5" lengthAdjust="spacingAndGlyphs">STARTING</text>
</svg>
</body></html>
